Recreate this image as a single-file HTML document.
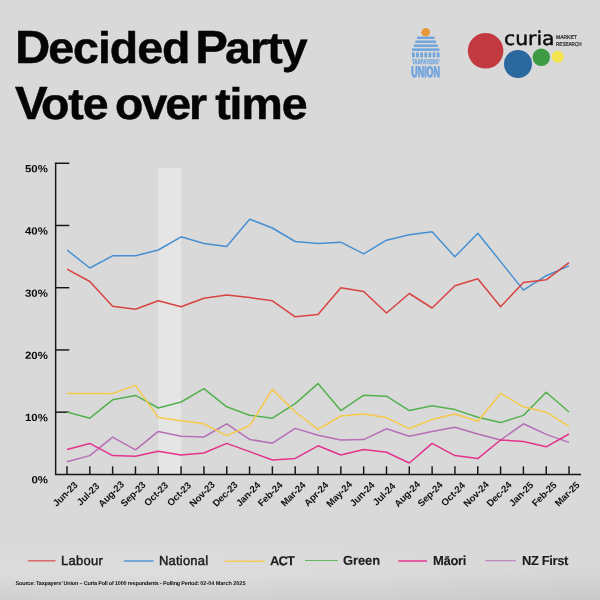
<!DOCTYPE html>
<html lang="en">
<head>
<meta charset="utf-8">
<title>Decided Party Vote over time</title>
<style>
html,body{margin:0;padding:0;}
body{width:600px;height:600px;overflow:hidden;position:relative;background:#d9d9d9;
 font-family:"Liberation Sans",sans-serif;color:#0a0a0a;text-rendering:geometricPrecision;}
.bg{position:absolute;left:0;top:0;width:600px;height:600px;
 background:
  linear-gradient(to bottom, rgba(0,0,0,0) 572px, rgba(0,0,0,0.045) 600px),
  radial-gradient(ellipse 340px 30px at 150px 572px, rgba(255,255,255,0.13), rgba(255,255,255,0) 100%),
  radial-gradient(ellipse 260px 40px at 600px 600px, rgba(0,0,0,0.03), rgba(0,0,0,0) 100%);}
h1{position:absolute;margin:0;left:0;top:0;width:600px;height:130px;font-weight:bold;font-size:46.5px;line-height:56px;}
h1 .w{position:absolute;white-space:nowrap;display:block;-webkit-text-stroke:0.5px #050505;color:#050505;
 transform:scaleY(0.95);transform-origin:0 44.11px;}
h1 .w::first-letter{-webkit-text-stroke:0.5px #050505;}
h1 .c0,h1 .c1,h1 .c2{transform-origin:0 44.96px;}
h1 .c0::first-letter,h1 .c1::first-letter,h1 .c2::first-letter{font-size:48.95px;}
h1 .c0::first-letter{margin-right:-0.9px;}
h1 .c1::first-letter{margin-right:-1.9px;}
h1 .c2::first-letter{margin-right:-5.3px;}

svg{position:absolute;left:0;top:0;}
.ylab{position:absolute;right:552.2px;font-weight:bold;font-size:10.4px;line-height:12px;white-space:nowrap;letter-spacing:0;transform-origin:100% 50%;}
.xlab{position:absolute;width:60px;height:12px;margin-left:-30px;margin-top:-6px;text-align:center;
 font-weight:bold;font-size:9.6px;line-height:12px;white-space:nowrap;transform:rotate(-45deg);letter-spacing:-0.12px;color:#111;}
.legend{position:absolute;left:0;top:551px;width:600px;height:20px;}
.legend .it{position:absolute;top:0;height:20px;font-size:13px;line-height:20px;white-space:nowrap;
 -webkit-text-stroke:0.45px #1c1c1c;color:#1c1c1c;transform-origin:0 50%;}
.legend .it.b{font-weight:bold;-webkit-text-stroke:0.1px #1c1c1c;}
.legend .ln{position:absolute;}
.src{position:absolute;left:15.6px;top:580px;font-size:5.5px;line-height:8px;font-weight:bold;white-space:nowrap;letter-spacing:-0.19px;color:#111;}
.src span{letter-spacing:-0.03px;}
</style>
</head>
<body>
<div class="bg"></div>
<h1><span class="w c0" style="left:14.9px;top:19.15px;letter-spacing:-1.05px">Decided</span> <span class="w c1" style="left:195.3px;top:19.15px;letter-spacing:-0.95px">Party</span> <span class="w c2" style="left:14.9px;top:75.15px;letter-spacing:-1.15px">Vote</span> <span class="w" style="left:115.1px;top:75px;letter-spacing:-2.05px">over</span> <span class="w" style="left:215.2px;top:75px;letter-spacing:-1.1px">time</span></h1>

<svg class="logos" width="600" height="110" viewBox="0 0 600 110">
 <g class="tu" fill="#6fa4dd">
  <circle cx="425.7" cy="32.3" r="4.3" fill="#e8973a"/>
  <rect x="417" y="36.6" width="17.5" height="2.4"/>
  <rect x="415.3" y="40.5" width="20.8" height="2.4"/>
  <rect x="413.8" y="44.5" width="24" height="2.4"/>
  <rect x="412" y="48.4" width="27.4" height="2.5"/>
  <rect x="412.00" y="52.4" width="2.7" height="5"/>
  <rect x="416.13" y="52.4" width="2.7" height="5"/>
  <rect x="420.26" y="52.4" width="2.7" height="5"/>
  <rect x="424.39" y="52.4" width="2.7" height="5"/>
  <rect x="428.52" y="52.4" width="2.7" height="5"/>
  <rect x="432.65" y="52.4" width="2.7" height="5"/>
  <rect x="436.78" y="52.4" width="2.7" height="5"/>
  <text transform="translate(411.9,64.1) scale(0.665,1)" font-family="'Liberation Sans', sans-serif" font-weight="bold" font-size="6.8" stroke="#6fa4dd" stroke-width="0.3" stroke-linejoin="round">TAXPAYERS’</text>
  <text transform="translate(411.3,77.25) scale(0.585,1)" font-family="'Liberation Sans', sans-serif" font-weight="bold" font-size="15.2" stroke="#6fa4dd" stroke-width="0.9" stroke-linejoin="round">UNION</text>
 </g>
 <g class="curia">
  <circle cx="485.6" cy="50.8" r="17.8" fill="#c23a3f"/>
  <circle cx="518" cy="64" r="14" fill="#2c68a0"/>
  <circle cx="541.3" cy="57.2" r="8.75" fill="#3f9a44"/>
  <circle cx="557.75" cy="56.8" r="6.1" fill="#f3e450"/>
  <text x="504" y="45" font-family="'DejaVu Sans', 'Liberation Sans', sans-serif" font-size="19" fill="#0b0b0b" stroke="#0b0b0b" stroke-width="0.45" textLength="50.6" lengthAdjust="spacingAndGlyphs">curia</text>
  <text x="556" y="39.2" font-family="'Liberation Sans', sans-serif" font-size="5.5" fill="#222" stroke="#222" stroke-width="0.2" textLength="20.8" lengthAdjust="spacingAndGlyphs">MARKET</text>
  <text x="556" y="45.7" font-family="'Liberation Sans', sans-serif" font-size="5.5" fill="#222" stroke="#222" stroke-width="0.2" textLength="25.6" lengthAdjust="spacingAndGlyphs">RESEARCH</text>
 </g>
</svg>

<svg class="chart" width="600" height="600" viewBox="0 0 600 600">
 <rect x="158.3" y="168" width="22.8" height="306" fill="#ffffff" fill-opacity="0.33"/>
 <g stroke="#161616" stroke-width="1.45" fill="none" stroke-linecap="butt">
  <path d="M55.65 162.5 V474.4 H581"/>
  <path d="M55.65 163.25 H69.3"/>
  <path d="M55.65 225.48 H69.3"/>
  <path d="M55.65 287.71 H69.3"/>
  <path d="M55.65 349.94 H69.3"/>
  <path d="M55.65 412.17 H69.3"/>
  <path d="M67.00 466.3 V474.4"/>
  <path d="M89.82 466.3 V474.4"/>
  <path d="M112.64 466.3 V474.4"/>
  <path d="M135.46 466.3 V474.4"/>
  <path d="M158.28 466.3 V474.4"/>
  <path d="M181.10 466.3 V474.4"/>
  <path d="M203.92 466.3 V474.4"/>
  <path d="M226.74 466.3 V474.4"/>
  <path d="M249.56 466.3 V474.4"/>
  <path d="M272.38 466.3 V474.4"/>
  <path d="M295.20 466.3 V474.4"/>
  <path d="M318.02 466.3 V474.4"/>
  <path d="M340.84 466.3 V474.4"/>
  <path d="M363.66 466.3 V474.4"/>
  <path d="M386.48 466.3 V474.4"/>
  <path d="M409.30 466.3 V474.4"/>
  <path d="M432.12 466.3 V474.4"/>
  <path d="M454.94 466.3 V474.4"/>
  <path d="M477.76 466.3 V474.4"/>
  <path d="M500.58 466.3 V474.4"/>
  <path d="M523.40 466.3 V474.4"/>
  <path d="M546.22 466.3 V474.4"/>
  <path d="M569.04 466.3 V474.4"/>
 </g>
 <g fill="none" stroke-width="1.5" stroke-linejoin="round" stroke-linecap="butt">
  <polyline class="nzf" stroke="#b56fb6" points="67.0,461.8 89.8,455.6 112.6,437.2 135.5,449.8 158.3,431.4 181.1,436.2 203.9,437.0 226.7,423.8 249.6,439.4 272.4,443.2 295.2,428.4 318.0,435.2 340.8,440.0 363.7,439.6 386.5,428.8 409.3,436.2 432.1,431.6 454.9,427.2 477.8,434.0 500.6,440.0 523.4,423.8 546.2,434.4 569.0,442.4"/>
  <polyline class="maori" stroke="#e2348c" points="67.0,449.4 89.8,443.4 112.6,455.6 135.5,456.2 158.3,451.3 181.1,455.0 203.9,453.0 226.7,443.4 249.6,451.6 272.4,460.0 295.2,458.4 318.0,445.8 340.8,455.0 363.7,449.4 386.5,452.2 409.3,463.0 432.1,443.4 454.9,455.6 477.8,458.6 500.6,440.0 523.4,441.4 546.2,446.8 569.0,434.0"/>
  <polyline class="green" stroke="#55b14f" points="67.0,412.0 89.8,418.2 112.6,399.8 135.5,395.4 158.3,408.0 181.1,402.0 203.9,388.6 226.7,406.8 249.6,415.2 272.4,418.2 295.2,403.6 318.0,383.6 340.8,410.6 363.7,395.2 386.5,396.2 409.3,410.6 432.1,405.8 454.9,409.6 477.8,417.2 500.6,422.6 523.4,415.4 546.2,392.2 569.0,412.0"/>
  <polyline class="act" stroke="#f7c948" points="67.0,393.6 89.8,393.6 112.6,393.6 135.5,385.4 158.3,417.6 181.1,420.8 203.9,423.8 226.7,435.6 249.6,425.8 272.4,389.4 295.2,412.0 318.0,429.4 340.8,416.0 363.7,414.0 386.5,417.6 409.3,428.8 432.1,419.4 454.9,414.0 477.8,421.2 500.6,393.4 523.4,406.8 546.2,412.2 569.0,426.4"/>
  <polyline class="nat" stroke="#4690d2" points="67.0,250.0 89.8,268.0 112.6,255.8 135.5,255.8 158.3,250.0 181.1,236.8 203.9,243.5 226.7,246.5 249.6,219.2 272.4,228.0 295.2,241.5 318.0,243.5 340.8,242.2 363.7,253.8 386.5,240.2 409.3,234.8 432.1,231.8 454.9,256.8 477.8,233.2 500.6,261.6 523.4,290.1 546.2,275.7 569.0,265.9"/>
  <polyline class="lab" stroke="#d94342" points="67.0,269.2 89.8,281.5 112.6,306.2 135.5,309.2 158.3,300.8 181.1,306.8 203.9,298.2 226.7,295.0 249.6,297.5 272.4,300.8 295.2,316.8 318.0,314.5 340.8,287.8 363.7,291.5 386.5,313.0 409.3,293.5 432.1,308.0 454.9,285.8 477.8,278.8 500.6,306.8 523.4,282.4 546.2,279.8 569.0,262.6"/>
 </g>
</svg>
<div class="ylab" style="top:163px;transform:translate(0,1.25px) skewY(0.2deg) scaleX(1.1)">50%</div>
<div class="ylab" style="top:225px;transform:translate(0,1.48px) skewY(0.2deg) scaleX(1.1)">40%</div>
<div class="ylab" style="top:287px;transform:translate(0,1.71px) skewY(0.2deg) scaleX(1.1)">30%</div>
<div class="ylab" style="top:349px;transform:translate(0,1.94px) skewY(0.2deg) scaleX(1.1)">20%</div>
<div class="ylab" style="top:412px;transform:translate(0,1.17px) skewY(0.2deg) scaleX(1.1)">10%</div>
<div class="ylab" style="top:474px;transform:translate(0,1.40px) skewY(0.2deg) scaleX(1.1)">0%</div>
<div class="xlab" style="left:65.9px;top:495px">Jun-23</div>
<div class="xlab" style="left:88.7px;top:495px">Jul-23</div>
<div class="xlab" style="left:111.5px;top:495px">Aug-23</div>
<div class="xlab" style="left:134.4px;top:495px">Sep-23</div>
<div class="xlab" style="left:157.2px;top:495px">Oct-23</div>
<div class="xlab" style="left:180.0px;top:495px">Oct-23</div>
<div class="xlab" style="left:202.8px;top:495px">Nov-23</div>
<div class="xlab" style="left:225.6px;top:495px">Dec-23</div>
<div class="xlab" style="left:248.5px;top:495px">Jan-24</div>
<div class="xlab" style="left:271.3px;top:495px">Feb-24</div>
<div class="xlab" style="left:294.1px;top:495px">Mar-24</div>
<div class="xlab" style="left:316.9px;top:495px">Apr-24</div>
<div class="xlab" style="left:339.7px;top:495px">May-24</div>
<div class="xlab" style="left:362.6px;top:495px">Jun-24</div>
<div class="xlab" style="left:385.4px;top:495px">Jul-24</div>
<div class="xlab" style="left:408.2px;top:495px">Aug-24</div>
<div class="xlab" style="left:431.0px;top:495px">Sep-24</div>
<div class="xlab" style="left:453.8px;top:495px">Oct-24</div>
<div class="xlab" style="left:476.7px;top:495px">Nov-24</div>
<div class="xlab" style="left:499.5px;top:495px">Dec-24</div>
<div class="xlab" style="left:522.3px;top:495px">Jan-25</div>
<div class="xlab" style="left:545.1px;top:495px">Feb-25</div>
<div class="xlab" style="left:567.9px;top:495px">Mar-25</div>
<div class="legend">
 <div class="item"><svg class="ln" width="31" height="6" style="left:26px;top:7px" viewBox="0 0 31 6"><line x1="1.80" y1="2.80" x2="29.50" y2="2.80" stroke="#d94342" stroke-width="1.30" stroke-opacity="0.88"/></svg><span class="it" style="left:60.70px;letter-spacing:0.25px;transform:translate(0,0.00px) skewY(0.1deg)">Labour</span></div>
 <div class="item"><svg class="ln" width="33" height="6" style="left:122px;top:7px" viewBox="0 0 33 6"><line x1="1.80" y1="3.00" x2="31.70" y2="3.00" stroke="#4690d2" stroke-width="1.50" stroke-opacity="0.88"/></svg><span class="it" style="left:158.70px;letter-spacing:0.20px;transform:translate(0,0.00px) skewY(0.1deg)">National</span></div>
 <div class="item"><svg class="ln" width="44" height="6" style="left:223px;top:7px" viewBox="0 0 44 6"><line x1="1.70" y1="3.30" x2="42.00" y2="3.30" stroke="#f7c948" stroke-width="1.50" stroke-opacity="0.88"/></svg><span class="it b" style="left:270.30px;letter-spacing:-0.85px;transform:translate(0,0.30px) skewY(0.1deg)">ACT</span></div>
 <div class="item"><svg class="ln" width="36" height="6" style="left:304px;top:7px" viewBox="0 0 36 6"><line x1="1.00" y1="2.50" x2="33.80" y2="2.50" stroke="#55b14f" stroke-width="1.00" stroke-opacity="0.88"/></svg><span class="it b" style="left:343.30px;letter-spacing:-0.10px;transform:translate(0,-0.30px) skewY(0.1deg)">Green</span></div>
 <div class="item"><svg class="ln" width="32" height="6" style="left:397px;top:7px" viewBox="0 0 32 6"><line x1="1.30" y1="3.00" x2="30.00" y2="3.00" stroke="#e2348c" stroke-width="1.70" stroke-opacity="0.88"/></svg><span class="it b" style="left:432.50px;letter-spacing:-0.30px;transform:translate(0,0.00px) skewY(0.1deg)">Māori</span></div>
 <div class="item"><svg class="ln" width="34" height="6" style="left:484px;top:7px" viewBox="0 0 34 6"><line x1="1.30" y1="2.70" x2="31.80" y2="2.70" stroke="#b56fb6" stroke-width="1.10" stroke-opacity="0.88"/></svg><span class="it b" style="left:521.60px;letter-spacing:-0.40px;transform:translate(0,0.00px) skewY(0.1deg)">NZ First</span></div>
</div>
<div class="src">Source: Taxpayers’ Union – Curia Poll of 1000 respondents - Polling Period: <span>02-04 March 2025</span></div>
</body>
</html>
